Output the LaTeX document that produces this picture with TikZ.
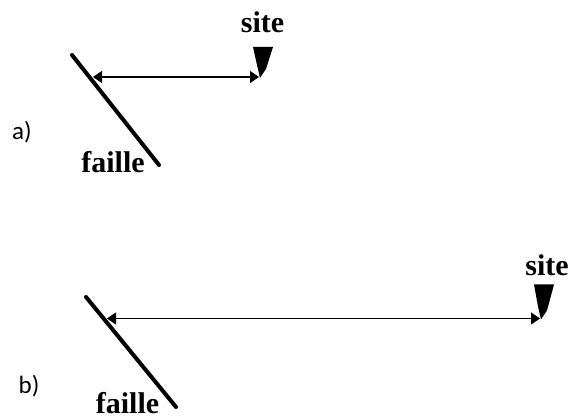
\documentclass[tikz,border=0pt]{standalone}
\usepackage{fontspec}
\newfontfamily\panelfont{Carlito}
\newfontfamily\tagfont{Liberation Serif}
\usetikzlibrary{arrows.meta, calc}

% station marker: tip at #1, height #2
\newcommand{\sitemark}[2]{%
  \fill ($(#1)+(-6,#2)$) -- ($(#1)+(14,#2)$) -- ($(#1)+(7,8)$) -- ($(#1)+(1,-1)$) -- ($(#1)+(-2,12)$) -- cycle;}

\begin{document}
\begin{tikzpicture}[
        x=1pt, y=1pt,
        fault/.style={line width=4pt, line cap=round},
        dist/.style={{Triangle[length=9pt,width=12pt]}-{Triangle[length=9pt,width=12pt]}, line width=1.3pt},
        tag/.style={inner sep=0pt, font=\tagfont\fontsize{30}{34}\selectfont\bfseries},
        panel/.style={inner sep=0pt, font=\panelfont\fontsize{25}{29}\selectfont}
    ]
    \useasboundingbox (0,0) rectangle (571,419);

    % a) site close to the fault
    \coordinate (fa-top) at (72,364);
    \coordinate (fa-bot) at (159,254);
    \draw[fault] (fa-top) -- (fa-bot);
    \coordinate (fa) at (93,342);
    \coordinate (sa) at (259,342);
    \sitemark{sa}{30}
    \draw[dist] (fa) -- (sa);
    \node[tag] (site-a) at (262.5,397) {site};
    \node[tag] (faille-a) at (113,257) {faille};
    \node[panel] (lab-a) at (22,287) {a)};

    % b) site far from the fault
    \coordinate (fb-top) at (86,122);
    \coordinate (fb-bot) at (176,12);
    \draw[fault] (fb-top) -- (fb-bot);
    \coordinate (fb) at (107,100.5);
    \coordinate (sb) at (540,100.5);
    \sitemark{sb}{34}
    \draw[dist] (fb) -- (sb);
    \node[tag] (site-b) at (547,154) {site};
    \node[tag] (faille-b) at (127.5,15.5) {faille};
    \node[panel] (lab-b) at (29,33) {b)};

\end{tikzpicture}
\end{document}
